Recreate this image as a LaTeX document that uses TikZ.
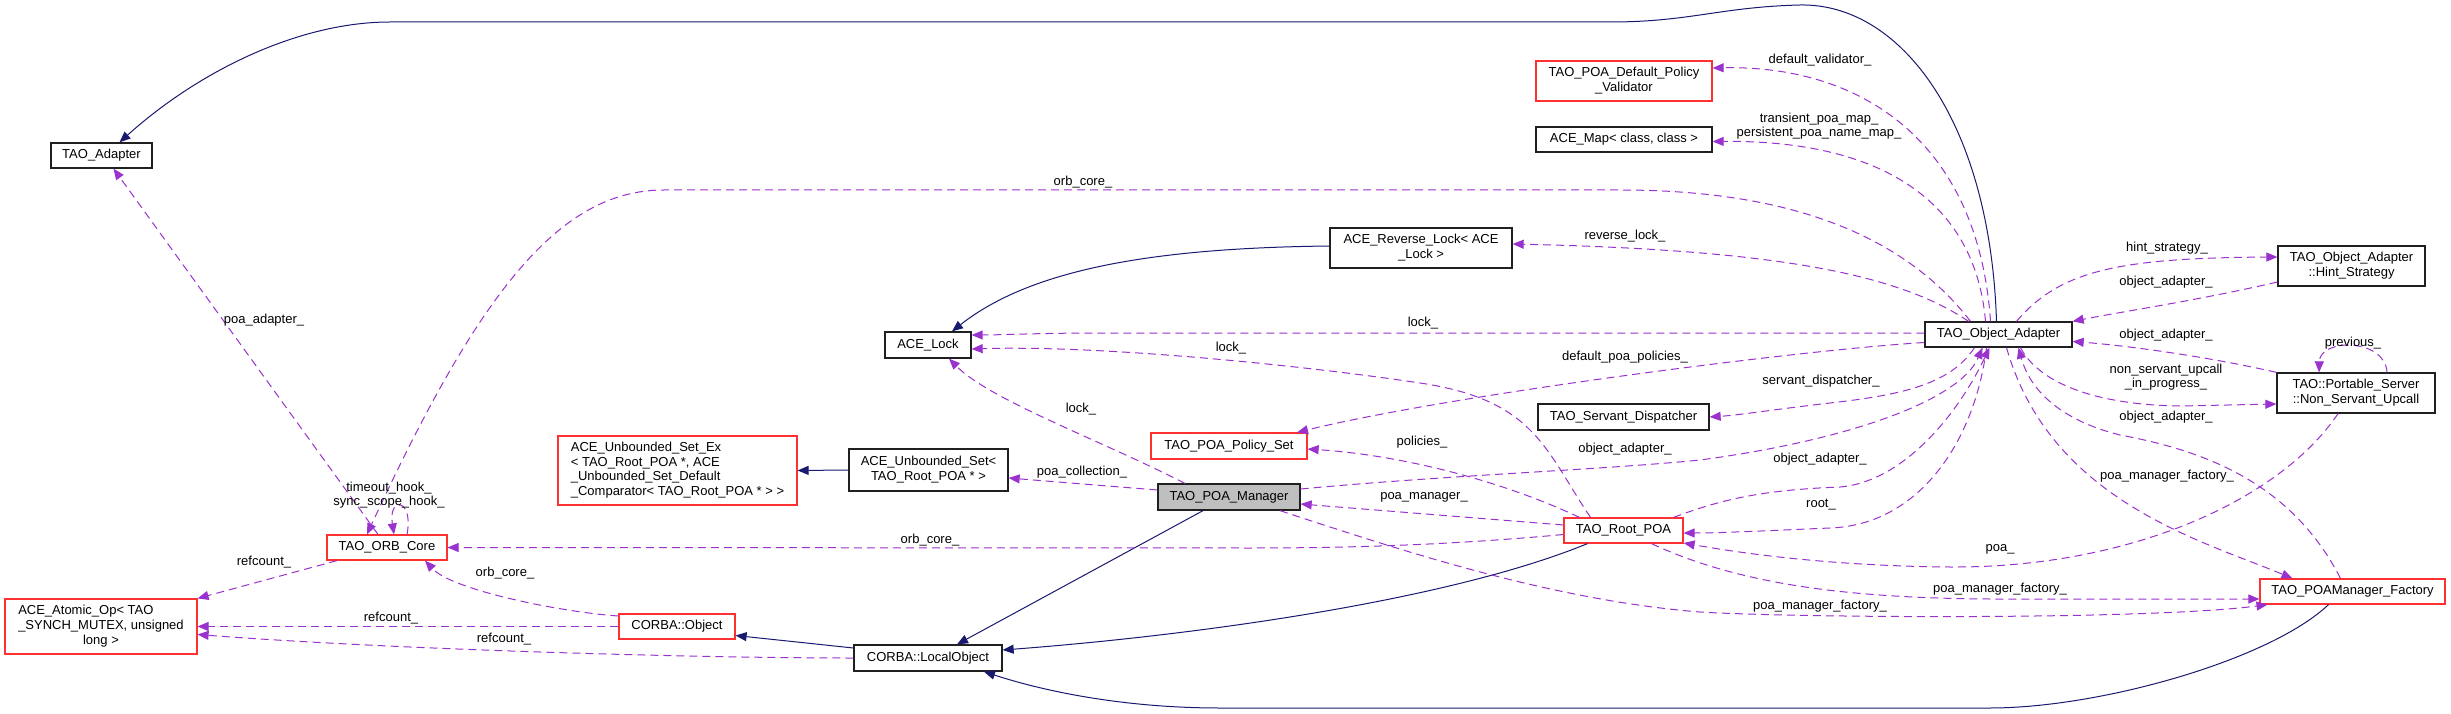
\documentclass[tikz,border=0pt]{standalone}
\usepackage{fontspec}
\setmainfont{Liberation Sans}
\usetikzlibrary{arrows.meta}
\definecolor{inhblue}{HTML}{191970}
\definecolor{usepurple}{HTML}{9A32CD}
\definecolor{nodered}{HTML}{FF3030}
\definecolor{nodeblack}{HTML}{202020}
\definecolor{fillgray}{HTML}{BFBFBF}
\newcommand\twol[2]{\begin{tabular}{@{}l@{}}#1\\\multicolumn{1}{@{}c@{}}{#2}\end{tabular}}
\tikzset{
  txt/.style={font=\fontsize{13}{14.7}\selectfont},
  cls/.style={txt, draw=nodeblack, line width=1.3pt, rectangle, inner sep=0pt, align=center},
  redcls/.style={cls, draw=nodered, line width=1.2pt},
  inh/.style={draw=inhblue, line width=1pt, -{Triangle[length=11pt,width=9pt]}},
  use/.style={draw=usepurple, line width=1pt, dash pattern=on 8pt off 5pt, -{Triangle[length=11pt,width=9pt]}},
  lbl/.style={txt, inner sep=0pt, align=center},
}
\begin{document}
\begin{tikzpicture}[x=1pt,y=-1pt]
\fill[white] (0,0) rectangle (2451,714);
\useasboundingbox (0,0) rectangle (2451,714);

% nodes
\node[cls, minimum width=101pt, minimum height=25pt] (adapter) at (101.5,155.5) {TAO\_Adapter};
\node[redcls, minimum width=176pt, minimum height=40pt] (validator) at (1624,81) {\twol{TAO\_POA\_Default\_Policy}{\_Validator}};
\node[cls, minimum width=176pt, minimum height=25pt] (acemap) at (1624,139.5) {ACE\_Map< class, class >};
\node[cls, minimum width=182pt, minimum height=40pt] (revlock) at (1421,248) {\twol{ACE\_Reverse\_Lock< ACE}{\_Lock >}};
\node[cls, minimum width=86pt, minimum height=26pt] (acelock) at (928,345) {ACE\_Lock};
\node[cls, minimum width=147pt, minimum height=25pt] (objadapter) at (1998.5,334.5) {TAO\_Object\_Adapter};
\node[cls, minimum width=147pt, minimum height=40pt] (hint) at (2351.5,266) {\twol{TAO\_Object\_Adapter}{::Hint\_Strategy}};
\node[cls, minimum width=171pt, minimum height=26pt] (servdisp) at (1623.5,417) {TAO\_Servant\_Dispatcher};
\node[cls, minimum width=158pt, minimum height=40pt] (nsu) at (2356,393) {\twol{TAO::Portable\_Server}{::Non\_Servant\_Upcall}};
\node[redcls, minimum width=239pt, minimum height=69pt] (setex) at (677.5,470.5) {\begin{tabular}{@{}l@{}}ACE\_Unbounded\_Set\_Ex\\< TAO\_Root\_POA *, ACE\\\_Unbounded\_Set\_Default\\\_Comparator< TAO\_Root\_POA * > >\end{tabular}};
\node[cls, minimum width=159pt, minimum height=42pt] (uset) at (928.5,470) {\twol{ACE\_Unbounded\_Set<}{TAO\_Root\_POA * >}};
\node[redcls, minimum width=156pt, minimum height=26pt] (policyset) at (1229,446) {TAO\_POA\_Policy\_Set};
\node[cls, fill=fillgray, minimum width=142pt, minimum height=26pt] (manager) at (1229,497) {TAO\_POA\_Manager};
\node[redcls, minimum width=119pt, minimum height=25pt] (rootpoa) at (1623.5,530.5) {TAO\_Root\_POA};
\node[redcls, minimum width=120pt, minimum height=25pt] (orbcore) at (387,547.5) {TAO\_ORB\_Core};
\node[redcls, minimum width=192pt, minimum height=55pt] (atomic) at (101,626.5) {\begin{tabular}{@{}l@{}}ACE\_Atomic\_Op< TAO\\\_SYNCH\_MUTEX, unsigned\\\multicolumn{1}{@{}c@{}}{long >}\end{tabular}};
\node[redcls, minimum width=116pt, minimum height=25pt] (corbaobj) at (677,626.5) {CORBA::Object};
\node[cls, minimum width=148pt, minimum height=26pt] (localobj) at (928,658) {CORBA::LocalObject};
\node[redcls, minimum width=185pt, minimum height=25pt] (factory) at (2352.5,591.5) {TAO\_POAManager\_Factory};

% inheritance
\draw[inh] ([xshift=-2pt]objadapter.north) .. controls (1990,120) and (1900,3) .. (1800,5) .. controls (1720,7) and (1690,22) .. (1610,22) -- (390,22) .. controls (300,22) and (200,70) .. ([xshift=18pt]adapter.north);
\draw[inh] ([yshift=2pt]revlock.west) .. controls (1150,248) and (1030,270) .. ([xshift=24pt]acelock.north);
\draw[inh] (uset.west) -- (setex.east);
\draw[inh] ([xshift=-26pt]manager.south) -- ([xshift=29pt]localobj.north);
\draw[inh] ([xshift=-36pt]rootpoa.south) .. controls (1450,600) and (1200,635) .. ([yshift=8pt]localobj.east);
\draw[inh] ([yshift=10pt]localobj.west) -- ([yshift=-9pt]corbaobj.east);
\draw[inh] ([xshift=-24pt]factory.south) .. controls (2270,660) and (2100,708) .. (1990,708) -- (1220,708) .. controls (1120,708) and (1040,690) .. ([xshift=56pt]localobj.south);

% usage edges
\draw[use] ([xshift=-9pt]orbcore.north) -- ([xshift=12pt]adapter.south);
\node[lbl] (l1) at (264,320) {poa\_adapter\_};
\draw[use] ([xshift=-28pt]objadapter.north) .. controls (1900,230) and (1780,190) .. (1620,190) -- (664,190) .. controls (560,190) and (480,290) .. ([xshift=-20pt]orbcore.north);
\node[lbl] (l2) at (1083,182) {orb\_core\_};
\draw[use] ([xshift=20pt]orbcore.north) .. controls (414,498) and (388,496) .. ([xshift=7pt]orbcore.north);
\node[lbl] (l3) at (389,495) {timeout\_hook\_\\sync\_scope\_hook\_};
\draw[use] ([xshift=-50pt]orbcore.south) -- (atomic.north east);
\node[lbl] (l4) at (264,562) {refcount\_};
\draw[use] (corbaobj.west) -- (atomic.east);
\node[lbl] (l5) at (391,618) {refcount\_};
\draw[use] ([yshift=10.5pt]corbaobj.west) .. controls (560,612) and (452,590) .. ([xshift=38pt]orbcore.south);
\node[lbl] (l6) at (505,573) {orb\_core\_};
\draw[use] (localobj.west) .. controls (700,658) and (400,650) .. ([yshift=-8pt]atomic.east);
\node[lbl] (l7) at (504,639) {refcount\_};
\draw[use] ([yshift=-4pt]rootpoa.west) .. controls (1450,545) and (1350,548) .. (1250,548) -- (orbcore.east);
\node[lbl] (l8) at (930,540) {orb\_core\_};
\draw[use] ([yshift=7pt]manager.west) -- ([yshift=-8pt]uset.east);
\node[lbl] (l9) at (1082,472) {poa\_collection\_};
\draw[use] ([xshift=-44pt]manager.north) .. controls (1100,440) and (990,400) .. ([xshift=21pt]acelock.south);
\node[lbl] (l10) at (1081,409) {lock\_};
\draw[use] ([yshift=5.5pt]rootpoa.west) -- ([yshift=-7pt]manager.east);
\node[lbl] (l11) at (1424,497) {poa\_manager\_};
\draw[use] ([xshift=-44pt]rootpoa.north) .. controls (1500,480) and (1400,455) .. ([yshift=-3pt]policyset.east);
\node[lbl] (l12) at (1422,442) {policies\_};
\draw[use] ([xshift=-33pt]rootpoa.north) .. controls (1545,450) and (1535,400) .. (1420,383) .. controls (1300,365) and (1100,345) .. ([yshift=-4pt]acelock.east);
\node[lbl] (l18b) at (1231,348) {lock\_};
\draw[use] ([yshift=8pt]manager.east) .. controls (1450,475) and (1600,470) .. (1700,460) .. controls (1850,440) and (1960,400) .. ([xshift=-16pt]objadapter.south);
\node[lbl] (l13) at (1625,449) {object\_adapter\_};
\draw[use] ([xshift=50pt]rootpoa.north) .. controls (1720,500) and (1760,490) .. (1840,487) .. controls (1900,482) and (1955,420) .. ([xshift=-9pt]objadapter.south);
\node[lbl] (l14) at (1820,459) {object\_adapter\_};
\draw[use] ([xshift=-12pt]objadapter.south) .. controls (1975,440) and (1920,525) .. (1830,528) .. controls (1760,531) and (1720,533) .. ([yshift=-2.5pt]rootpoa.east);
\node[lbl] (l15) at (1821,505) {root\_};
\draw[use] ([xshift=-24pt]objadapter.south) .. controls (1950,385) and (1900,395) .. (1830,403) .. controls (1770,410) and (1740,415) .. (servdisp.east);
\node[lbl] (l16) at (1821,381) {servant\_dispatcher\_};
\draw[use] ([yshift=-8pt]objadapter.west) .. controls (1800,350) and (1450,395) .. ([xshift=68pt]policyset.north);
\node[lbl] (l17) at (1625,357) {default\_poa\_policies\_};
\draw[use] ([yshift=1.5pt]objadapter.west) -- (1100,333) .. controls (1040,333) and (1000,335) .. ([yshift=10pt]acelock.east);
\node[lbl] (l18) at (1423,323) {lock\_};
\draw[use] ([xshift=-30pt]objadapter.north) .. controls (1900,275) and (1780,250) .. ([yshift=4pt]revlock.east);
\node[lbl] (l19) at (1625,236) {reverse\_lock\_};
\draw[use] ([xshift=-13pt]objadapter.north) .. controls (1975,200) and (1880,140) .. ([yshift=-2pt]acemap.east);
\node[lbl] (l20) at (1819,126) {transient\_poa\_map\_\\persistent\_poa\_name\_map\_};
\draw[use] ([xshift=-8pt]objadapter.north) .. controls (1978,140) and (1860,65) .. ([yshift=13pt]validator.east);
\node[lbl] (l21) at (1820,60) {default\_validator\_};
\draw[use] ([xshift=18pt]objadapter.north) .. controls (2060,270) and (2120,258) .. ([yshift=9pt]hint.west);
\node[lbl] (l22) at (2167,248) {hint\_strategy\_};
\draw[use] ([yshift=-16pt]hint.west) .. controls (2200,300) and (2120,312) .. (objadapter.north east);
\node[lbl] (l23) at (2166,282) {object\_adapter\_};
\draw[use] (nsu.north west) .. controls (2200,355) and (2120,345) .. ([yshift=-7pt]objadapter.east);
\node[lbl] (l24) at (2166,335) {object\_adapter\_};
\draw[use] ([xshift=22pt]objadapter.south) .. controls (2040,385) and (2100,405) .. (2180,406) -- ([yshift=-11pt]nsu.west);
\node[lbl] (l25) at (2166,377) {non\_servant\_upcall\\\_in\_progress\_};
\draw[use] ([xshift=31pt]nsu.north) .. controls (2385,338) and (2320,338) .. ([xshift=-37pt]nsu.north);
\node[lbl] (l26) at (2353,343) {previous\_};
\draw[use] ([xshift=-18pt]nsu.south) .. controls (2280,500) and (2130,568) .. (1950,567) .. controls (1830,566) and (1740,553) .. ([yshift=-12.5pt]rootpoa.east);
\node[lbl] (l27) at (2000,549) {poa\_};
\draw[use] ([xshift=-12pt]factory.north) .. controls (2290,480) and (2200,450) .. (2120,435) .. controls (2060,420) and (2030,390) .. ([xshift=20pt]objadapter.south);
\node[lbl] (l28) at (2166,417) {object\_adapter\_};
\draw[use] ([xshift=8pt]objadapter.south) .. controls (2050,500) and (2200,540) .. ([xshift=-60pt]factory.north);
\node[lbl] (l29) at (2167,476) {poa\_manager\_factory\_};
\draw[use] ([xshift=28pt]rootpoa.south) .. controls (1740,585) and (1850,598) .. (1990,599) -- ([yshift=-7.5pt]factory.west);
\node[lbl] (l30) at (2000,589) {poa\_manager\_factory\_};
\draw[use] ([xshift=51pt]manager.south) .. controls (1400,550) and (1550,600) .. (1700,612) .. controls (1800,618) and (2150,620) .. ([xshift=-85pt]factory.south);
\node[lbl] (l31) at (1820,606) {poa\_manager\_factory\_};
\end{tikzpicture}
\end{document}
